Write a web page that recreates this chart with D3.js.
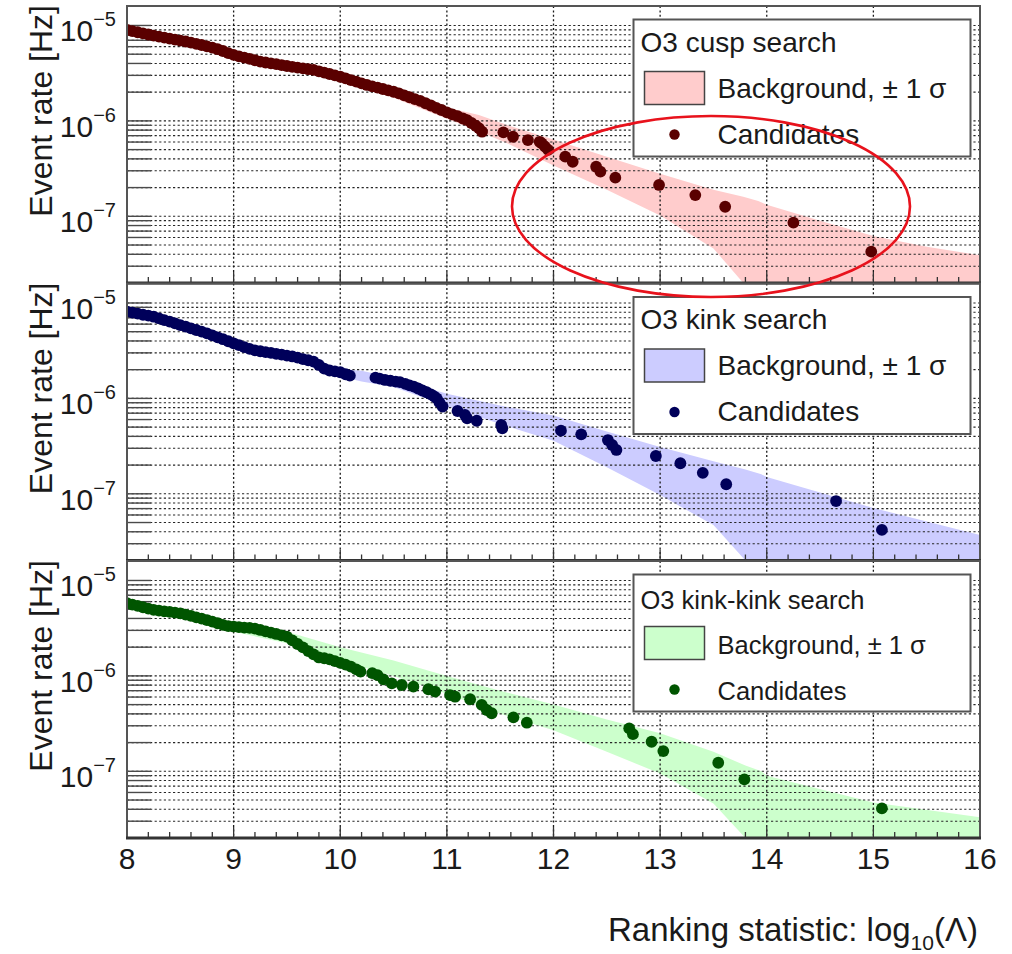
<!DOCTYPE html>
<html><head><meta charset="utf-8">
<script src="https://cdn.jsdelivr.net/npm/d3@7"></script>
<style>
body{margin:0;background:#fff}
svg{display:block}
text{font-family:"Liberation Sans",Arial,Helvetica,sans-serif;fill:#1a1a1a}
</style>
</head><body>
<svg id="chart" width="1012" height="954"></svg>
<script>
// ---------------- data ----------------
const xTickValues = [8, 9, 10, 11, 12, 13, 14, 15, 16];
const yDecadeExponents = [-5, -6, -7];
const panelTitles = ["O3 cusp search", "O3 kink search", "O3 kink-kink search"];
const bandLabel = "Background, \u00b1 1 \u03c3";
const candLabel = "Candidates";
const xTitle = "Ranking statistic: log";
const yTitle = "Event rate [Hz]";

// candidates: [log10(Lambda), rate Hz]
const cuspCandidates = [
 [8.00,8.97e-6],[8.05,8.73e-6],[8.10,8.49e-6],[8.15,8.26e-6],[8.20,8.04e-6],[8.25,7.82e-6],[8.30,7.64e-6],[8.35,7.46e-6],
 [8.40,7.29e-6],[8.45,7.11e-6],[8.50,6.95e-6],[8.55,6.79e-6],[8.60,6.61e-6],[8.65,6.41e-6],[8.70,6.24e-6],[8.75,6.05e-6],
 [8.80,5.87e-6],[8.85,5.64e-6],[8.90,5.40e-6],[8.95,5.14e-6],[9.00,4.91e-6],[9.05,4.75e-6],[9.10,4.60e-6],[9.15,4.46e-6],
 [9.20,4.32e-6],[9.25,4.18e-6],[9.30,4.09e-6],[9.35,4.01e-6],[9.40,3.93e-6],[9.45,3.85e-6],[9.50,3.76e-6],[9.55,3.69e-6],
 [9.60,3.62e-6],[9.65,3.55e-6],[9.70,3.48e-6],[9.75,3.42e-6],[9.80,3.31e-6],[9.85,3.21e-6],[9.90,3.10e-6],[9.95,3.00e-6],
 [10.00,2.90e-6],[10.05,2.79e-6],[10.10,2.68e-6],[10.15,2.58e-6],[10.20,2.47e-6],[10.25,2.38e-6],[10.30,2.30e-6],[10.35,2.23e-6],
 [10.40,2.16e-6],[10.45,2.09e-6],[10.50,2.02e-6],[10.55,1.94e-6],[10.60,1.85e-6],[10.65,1.77e-6],[10.70,1.69e-6],[10.75,1.62e-6],
 [10.80,1.53e-6],[10.85,1.45e-6],[10.90,1.37e-6],[10.95,1.30e-6],[11.00,1.23e-6],[11.05,1.17e-6],[11.10,1.12e-6],[11.15,1.06e-6],
 [11.19,1.02e-6],[11.23,9.5e-7],[11.27,8.9e-7],[11.30,8.4e-7],[11.33,7.7e-7],
 [11.53,7.59e-7],[11.62,6.82e-7],[11.76,6.30e-7],[11.87,6.04e-7],[11.89,5.82e-7],[11.92,5.38e-7],[11.95,4.96e-7],
 [12.11,4.22e-7],[12.18,3.73e-7],[12.40,3.31e-7],[12.44,2.94e-7],[12.58,2.54e-7],[12.99,2.13e-7],[13.33,1.67e-7],
 [13.61,1.26e-7],[14.25,8.57e-8],[14.98,4.26e-8]
];
const kinkCandidates = [
 [8.00,8.11e-6],[8.05,7.91e-6],[8.10,7.73e-6],[8.15,7.53e-6],[8.20,7.36e-6],[8.25,7.18e-6],[8.30,6.90e-6],[8.35,6.62e-6],
 [8.40,6.37e-6],[8.45,6.11e-6],[8.50,5.87e-6],[8.55,5.65e-6],[8.60,5.42e-6],[8.65,5.21e-6],[8.70,5.00e-6],[8.75,4.81e-6],
 [8.80,4.58e-6],[8.85,4.37e-6],[8.90,4.17e-6],[8.95,3.97e-6],[9.00,3.78e-6],[9.05,3.61e-6],[9.10,3.45e-6],[9.15,3.30e-6],
 [9.20,3.18e-6],[9.25,3.12e-6],[9.30,3.05e-6],[9.35,3.00e-6],[9.40,2.93e-6],[9.45,2.87e-6],[9.50,2.81e-6],[9.55,2.75e-6],
 [9.60,2.67e-6],[9.65,2.58e-6],[9.70,2.51e-6],[9.75,2.43e-6],[9.80,2.24e-6],[9.85,2.05e-6],[9.90,1.96e-6],[9.95,1.92e-6],
 [10.00,1.88e-6],[10.05,1.79e-6],[10.09,1.73e-6],
 [10.33,1.65e-6],[10.37,1.61e-6],[10.42,1.56e-6],[10.47,1.53e-6],[10.52,1.50e-6],[10.56,1.48e-6],[10.61,1.42e-6],[10.65,1.37e-6],
 [10.69,1.33e-6],[10.73,1.27e-6],[10.77,1.21e-6],[10.81,1.16e-6],[10.85,1.10e-6],[10.88,1.05e-6],[10.905,1.00e-6],[10.93,9.1e-7],
 [10.96,8.2e-7],[11.10,7.38e-7],[11.17,6.7e-7],[11.19,6.18e-7],[11.28,5.83e-7],[11.51,5.26e-7],[11.52,4.86e-7],
 [12.07,4.59e-7],[12.26,4.2e-7],[12.51,3.66e-7],[12.55,3.25e-7],[12.59,2.88e-7],[12.96,2.49e-7],[13.19,2.09e-7],
 [13.40,1.66e-7],[13.62,1.26e-7],[14.65,8.4e-8],[15.08,4.18e-8]
];
const kinkKinkCandidates = [
 [8.00,5.77e-6],[8.05,5.58e-6],[8.10,5.41e-6],[8.15,5.24e-6],[8.20,5.07e-6],[8.25,4.91e-6],[8.30,4.83e-6],[8.35,4.75e-6],
 [8.40,4.68e-6],[8.45,4.60e-6],[8.50,4.53e-6],[8.55,4.39e-6],[8.60,4.25e-6],[8.65,4.11e-6],[8.70,3.98e-6],[8.75,3.85e-6],
 [8.80,3.71e-6],[8.85,3.56e-6],[8.90,3.43e-6],[8.95,3.32e-6],[9.00,3.29e-6],[9.05,3.25e-6],[9.10,3.21e-6],[9.15,3.18e-6],
 [9.20,3.13e-6],[9.25,3.03e-6],[9.30,2.93e-6],[9.35,2.84e-6],[9.40,2.75e-6],[9.45,2.66e-6],[9.50,2.58e-6],[9.55,2.36e-6],
 [9.60,2.16e-6],[9.65,1.99e-6],[9.70,1.82e-6],[9.75,1.68e-6],[9.80,1.56e-6],[9.85,1.53e-6],[9.90,1.49e-6],[9.95,1.43e-6],
 [10.00,1.37e-6],[10.05,1.31e-6],[10.10,1.25e-6],[10.15,1.17e-6],[10.19,1.11e-6],
 [10.30,1.07e-6],[10.35,1.02e-6],[10.405,9.2e-7],[10.483,8.36e-7],[10.577,8.03e-7],[10.686,7.71e-7],[10.826,7.24e-7],
 [10.89,6.83e-7],[11.03,6.3e-7],[11.077,6.05e-7],[11.218,5.69e-7],[11.327,4.96e-7],[11.374,4.39e-7],[11.42,4.06e-7],
 [11.624,3.68e-7],[11.75,3.23e-7],
 [12.71,2.82e-7],[12.745,2.45e-7],[12.92,2.04e-7],[13.03,1.63e-7],[13.545,1.23e-7],[13.79,8.24e-8],[15.08,4.09e-8]
];

// background +-1 sigma band: [log10(Lambda), low, high]
const cuspBand = [
 [8.0,8.4e-6,9.5e-6],[8.5,6.6e-6,7.4e-6],[9.0,4.6e-6,5.3e-6],[9.5,3.5e-6,4.0e-6],[10.0,2.6e-6,3.1e-6],
 [10.5,1.75e-6,2.2e-6],[11.0,1.05e-6,1.38e-6],[11.3,7.8e-7,1.15e-6],[11.6,5.6e-7,8.8e-7],[12.0,3.4e-7,6.4e-7],
 [12.5,1.9e-7,4.2e-7],[13.0,1.02e-7,2.8e-7],[13.5,4.6e-8,1.9e-7],[13.78,2.0e-8,1.6e-7],[13.92,1e-9,1.45e-7],
 [14.0,1e-9,1.32e-7],[14.5,1e-9,9.0e-8],[15.0,1e-9,6.2e-8],[15.5,1e-9,4.8e-8],[16.0,1e-9,3.9e-8]
];
const kinkBand = [
 [8.0,7.6e-6,8.6e-6],[8.5,5.5e-6,6.3e-6],[9.0,3.5e-6,4.0e-6],[9.5,2.6e-6,3.0e-6],[10.0,1.7e-6,2.05e-6],
 [10.2,1.5e-6,1.95e-6],[10.5,1.32e-6,1.65e-6],[11.0,8.3e-7,1.12e-6],[11.5,5.4e-7,8.4e-7],[12.0,3.6e-7,6.6e-7],
 [12.5,1.9e-7,4.5e-7],[13.0,9.7e-8,3.1e-7],[13.5,4.7e-8,2.2e-7],[13.8,2.0e-8,1.8e-7],[13.95,1e-9,1.6e-7],
 [14.0,1e-9,1.5e-7],[15.0,1e-9,7.1e-8],[16.0,1e-9,3.7e-8]
];
const kinkKinkBand = [
 [8.0,5.3e-6,6.1e-6],[8.5,4.2e-6,4.8e-6],[9.0,2.9e-6,3.5e-6],[9.5,2.2e-6,2.9e-6],[10.0,1.45e-6,2.0e-6],
 [10.5,1.0e-6,1.45e-6],[11.0,6.5e-7,1.0e-6],[11.5,4.0e-7,7.0e-7],[12.0,2.7e-7,5.0e-7],[12.5,1.6e-7,3.5e-7],
 [13.0,9.5e-8,2.5e-7],[13.5,4.6e-8,1.6e-7],[13.8,2.0e-8,1.15e-7],[13.95,1e-9,1.0e-7],[14.0,1e-9,9.0e-8],
 [15.0,1e-9,4.7e-8],[16.0,1e-9,3.3e-8]
];

// ---------------- styles / layout ----------------
const panelStyle = [
  {dot: "#5a0000", fill: "#ffcccc", titleSize: 28, textSize: 28},
  {dot: "#00005a", fill: "#ccccff", titleSize: 28, textSize: 28},
  {dot: "#005500", fill: "#ccffcc", titleSize: 25.5, textSize: 25.5}
];
const panelData = [
  {cand: cuspCandidates, band: cuspBand},
  {cand: kinkCandidates, band: kinkBand},
  {cand: kinkKinkCandidates, band: kinkKinkBand}
];

const L = 127, R = 980, panelH = 277;
const panelTops = [6, 283.5, 561];
const svg = d3.select("#chart");

const x = d3.scaleLinear().domain([8, 16]).range([L, R]);

panelData.forEach((pd, i) => {
  const top = panelTops[i], bot = top + panelH;
  const st = panelStyle[i];
  const y = d3.scaleLog().domain([2e-8, 1.6e-5]).range([bot, top]);
  const g = svg.append("g");

  const clipId = "clip" + i;
  svg.append("clipPath").attr("id", clipId).append("rect")
    .attr("x", L).attr("y", top).attr("width", R - L).attr("height", panelH);

  // band
  const area = d3.area()
    .x(d => x(d[0])).y0(d => y(d[1])).y1(d => y(d[2]));
  g.append("path").datum(pd.band).attr("d", area)
    .attr("fill", st.fill).attr("clip-path", `url(#${clipId})`);

  // grid values
  const gridVals = [];
  for (let k = -8; k <= -5; k++) for (let m = 1; m <= 9; m++) {
    const v = m * Math.pow(10, k);
    if (v >= 2e-8 * 0.999 && v <= 1.6e-5) gridVals.push(v);
  }
  // horizontal grid
  g.append("g").selectAll("line").data(gridVals).join("line")
    .attr("x1", L).attr("x2", R)
    .attr("y1", d => y(d)).attr("y2", d => y(d))
    .attr("stroke", "#262626").attr("stroke-width", 1.1)
    .attr("stroke-dasharray", "2.2,2.4");
  // vertical grid
  g.append("g").selectAll("line").data(xTickValues.filter(v => v > 8 && v < 16)).join("line")
    .attr("x1", d => x(d)).attr("x2", d => x(d))
    .attr("y1", top).attr("y2", bot)
    .attr("stroke", "#1a1a1a").attr("stroke-width", 1.3)
    .attr("stroke-dasharray", "2,2.4");

  // y ticks (inside)
  g.append("g").selectAll("line").data(gridVals).join("line")
    .attr("x1", L).attr("x2", L + 24)
    .attr("y1", d => y(d)).attr("y2", d => y(d))
    .attr("stroke", "#4a4a4a").attr("stroke-width", 1.4);

  // x ticks at bottom (inside, upward)
  const xt = d3.range(0, 41).map(j => 8 + j * 0.2);
  g.append("g").selectAll("line").data(xt).join("line")
    .attr("x1", d => x(d)).attr("x2", d => x(d))
    .attr("y1", bot).attr("y2", (d, j) => j % 5 === 0 ? bot - 11 : bot - 6)
    .attr("stroke", "#333").attr("stroke-width", 1.3);

  // candidates
  g.append("g").selectAll("circle").data(pd.cand).join("circle")
    .attr("cx", d => x(d[0])).attr("cy", d => y(d[1])).attr("r", 5.9)
    .attr("fill", st.dot).attr("clip-path", `url(#${clipId})`);

  // frame
  g.append("rect").attr("x", L).attr("y", top).attr("width", R - L).attr("height", panelH)
    .attr("fill", "none").attr("stroke", "#555").attr("stroke-width", 2);
  g.append("line").attr("x1", L - 1).attr("x2", R + 1).attr("y1", bot).attr("y2", bot)
    .attr("stroke", "#333").attr("stroke-width", 3);

  // y tick labels
  yDecadeExponents.forEach(e => {
    const yy = y(Math.pow(10, e));
    const t = g.append("text").attr("x", 116).attr("y", yy + 16).attr("text-anchor", "end");
    t.append("tspan").attr("font-size", 30).text("10");
    t.append("tspan").attr("font-size", 20).attr("dy", -15).text("\u2212" + Math.abs(e));
  });

  // y title
  g.append("text").attr("transform", `translate(52,${top - 1}) rotate(-90)`)
    .attr("text-anchor", "end").attr("font-size", 32).text(yTitle);

  // legend
  const lx = 633.5, ly = top + 13.5, lw = 337, lh = 137;
  const lg = svg.append("g");
  lg.append("rect").attr("x", lx).attr("y", ly).attr("width", lw).attr("height", lh)
    .attr("fill", "#fff").attr("stroke", "#555").attr("stroke-width", 2);
  lg.append("text").attr("x", lx + 7).attr("y", ly + (i === 2 ? 34 : 32))
    .attr("font-size", st.titleSize).text(panelTitles[i]);
  lg.append("rect").attr("x", lx + 11).attr("y", ly + 52).attr("width", 60).attr("height", 33)
    .attr("fill", st.fill).attr("stroke", "#444").attr("stroke-width", 1.5);
  lg.append("text").attr("x", lx + 84).attr("y", ly + (i === 2 ? 79 : 78))
    .attr("font-size", st.textSize).text(bandLabel);
  lg.append("circle").attr("cx", lx + 41).attr("cy", ly + 115).attr("r", 5.2).attr("fill", st.dot);
  lg.append("text").attr("x", lx + 84).attr("y", ly + (i === 2 ? 125 : 124))
    .attr("font-size", st.textSize).text(candLabel);
});

// x tick labels
svg.append("g").selectAll("text").data(xTickValues).join("text")
  .attr("x", d => x(d)).attr("y", 869).attr("text-anchor", "middle")
  .attr("font-size", 30).text(d => d);

// x title
const xtt = svg.append("text").attr("x", 978).attr("y", 941).attr("text-anchor", "end").attr("font-size", 33);
xtt.append("tspan").text(xTitle);
xtt.append("tspan").attr("font-size", 21).attr("dy", 9).text("10");
xtt.append("tspan").attr("dy", -9).text("(\u039b)");

// red highlight ellipse
svg.append("ellipse").attr("cx", 711).attr("cy", 206.5).attr("rx", 199).attr("ry", 90.5)
  .attr("fill", "none").attr("stroke", "#e8121c").attr("stroke-width", 2.6);
</script>
</body></html>
